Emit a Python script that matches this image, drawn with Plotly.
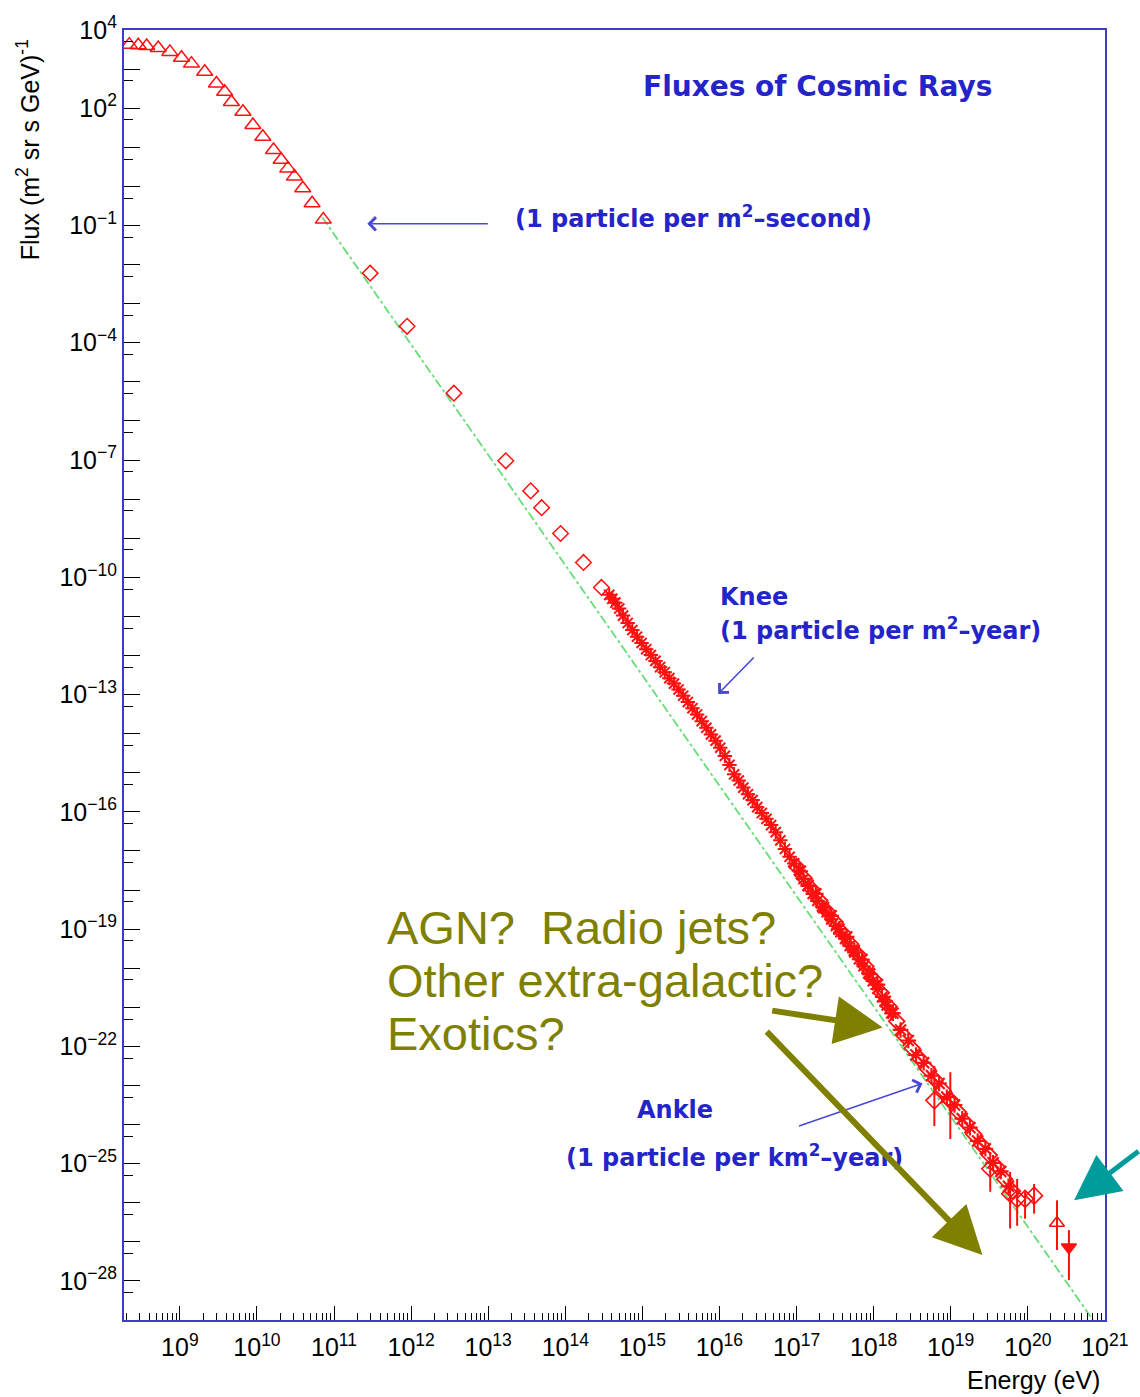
import numpy as np
import plotly.graph_objects as go

# ---- data: log10(E / eV) and log10(flux / (m^2 sr s GeV)^-1) ----
# low-energy direct measurements (open triangles)
tri_log_e = [8.344, 8.46, 8.569, 8.719, 8.87, 9.021, 9.15, 9.322, 9.474, 9.581, 9.668,
             9.818, 9.947, 10.076, 10.215, 10.314, 10.40, 10.486, 10.594, 10.715, 10.861]
tri_log_flux = [3.625, 3.61, 3.59, 3.54, 3.44, 3.29, 3.14, 2.93, 2.63, 2.42, 2.16,
                1.91, 1.57, 1.27, 0.93, 0.68, 0.46, 0.25, -0.05, -0.43, -0.85]

# balloon / satellite data (open diamonds)
dia_log_e = [11.469, 11.948, 12.555, 13.228, 13.551, 13.693, 13.939, 14.236, 14.469]
dia_log_flux = [-2.22, -3.58, -5.29, -7.02, -7.79, -8.22, -8.88, -9.62, -10.26]

# air-shower data around the knee (asterisks)
star_log_e = [14.57, 14.61, 14.65, 14.70, 14.75, 14.81, 14.87, 14.93, 14.99, 15.05,
              15.11, 15.17, 15.23, 15.29, 15.35, 15.41, 15.47, 15.53, 15.59, 15.65,
              15.71, 15.77, 15.83, 15.89, 15.95, 16.01, 16.07, 16.13, 16.19, 16.25,
              16.31, 16.37, 16.43, 16.49, 16.55, 16.61, 16.67, 16.73, 16.79, 16.85,
              16.91, 16.97, 17.03, 17.09, 17.15, 17.21, 17.27, 17.33, 17.39, 17.45,
              17.51, 17.57, 17.63, 17.69, 17.75, 17.81, 17.87, 17.93, 17.99, 18.05,
              18.11, 18.17, 18.23]
star_log_flux = [-10.45, -10.55, -10.65, -10.80, -10.98, -11.17, -11.35, -11.52, -11.68, -11.84,
                 -11.99, -12.14, -12.30, -12.43, -12.58, -12.72, -12.87, -13.03, -13.19, -13.35,
                 -13.51, -13.68, -13.85, -14.02, -14.18, -14.36, -14.57, -14.80, -15.04, -15.20,
                 -15.38, -15.55, -15.70, -15.88, -16.03, -16.18, -16.34, -16.52, -16.73, -16.95,
                 -17.15, -17.32, -17.50, -17.72, -17.90, -18.10, -18.28, -18.42, -18.57, -18.75,
                 -18.92, -19.08, -19.25, -19.43, -19.60, -19.77, -19.95, -20.13, -20.33, -20.53,
                 -20.74, -20.95, -21.15]

# ultra-high-energy air-shower arrays (open diamonds and asterisks)
uhe_log_e = [17.00, 17.10, 17.20, 17.30, 17.40, 17.50, 17.60, 17.70, 17.80, 17.90,
             18.00, 18.10, 18.20, 18.30, 18.40, 18.50, 18.60, 18.70, 18.80, 18.90,
             19.00, 19.10, 19.20, 19.30, 19.40, 19.50, 19.60, 19.70, 19.80]
uhe_log_flux = [-17.40, -17.70, -17.98, -18.27, -18.55, -18.82, -19.10, -19.38, -19.65, -19.96,
                -20.28, -20.63, -20.98, -21.36, -21.74, -22.05, -22.32, -22.58, -22.86, -23.12,
                -23.40, -23.68, -23.96, -24.25, -24.52, -24.78, -25.08, -25.40, -25.70]
uhe2_log_e = [17.05, 17.15, 17.25, 17.35, 17.45, 17.55, 17.65, 17.75, 17.85, 17.95,
              18.05, 18.15, 18.25, 18.35, 18.45, 18.55, 18.65, 18.75, 18.85, 18.95,
              19.05, 19.15, 19.25, 19.35, 19.45, 19.55, 19.65, 19.75]
uhe2_log_flux = [-17.52, -17.88, -18.10, -18.45, -18.66, -19.00, -19.20, -19.55, -19.78, -20.15,
                 -20.42, -20.85, -21.15, -21.58, -21.85, -22.22, -22.42, -22.75, -22.95, -23.30,
                 -23.50, -23.85, -24.08, -24.42, -24.62, -24.98, -25.20, -25.58]

# highest-energy points with error bars
eb_log_e = [18.788, 18.995, 19.513, 19.771, 19.862, 19.965, 20.082]
eb_log_flux = [-23.38, -23.38, -25.13, -25.77, -25.90, -25.90, -25.82]
eb_log_hi = [-22.50, -22.66, -24.70, -25.21, -25.39, -25.72, -25.52]
eb_log_lo = [-24.04, -24.37, -25.72, -26.66, -26.59, -26.41, -26.28]

up_log_e, up_log_flux, up_log_hi, up_log_lo = [20.379], [-26.52], [-25.94], [-27.21]
dn_log_e, dn_log_flux, dn_log_hi, dn_log_lo = [20.534], [-27.14], [-26.70], [-27.98]

# power-law reference line
fit_log_e = [10.848, 20.845]
fit_log_flux = [-0.796, -29.0]

# axis ticks
x_decades = list(range(9, 22))
y_label_exps = [4, 2, -1, -4, -7, -10, -13, -16, -19, -22, -25, -28]


def p10(v):
    return np.power(10.0, np.asarray(v, dtype=float))


RED = "#ff1010"
FRAME = "#3c3cc4"
BLUE_TXT = "#2424c8"
OLIVE = "#808000"

fig = go.Figure()

fig.add_trace(go.Scatter(
    x=p10(fit_log_e), y=p10(fit_log_flux), mode="lines",
    line=dict(color="#66dd77", width=1.8, dash="dashdot"), hoverinfo="skip"))

fig.add_trace(go.Scatter(
    x=p10(tri_log_e), y=p10(tri_log_flux), mode="markers",
    marker=dict(symbol="triangle-up-open", size=14, color=RED, line=dict(width=1.5, color=RED))))

fig.add_trace(go.Scatter(
    x=p10(dia_log_e), y=p10(dia_log_flux), mode="markers",
    marker=dict(symbol="diamond-open", size=12, color=RED, line=dict(width=1.5, color=RED))))

fig.add_trace(go.Scatter(
    x=p10(star_log_e), y=p10(star_log_flux), mode="markers",
    marker=dict(symbol="asterisk-open", size=12, color=RED, line=dict(width=2, color=RED))))

fig.add_trace(go.Scatter(
    x=p10(uhe_log_e), y=p10(uhe_log_flux), mode="markers",
    marker=dict(symbol="diamond-open", size=12, color=RED, line=dict(width=1.8, color=RED))))

fig.add_trace(go.Scatter(
    x=p10(uhe2_log_e), y=p10(uhe2_log_flux), mode="markers",
    marker=dict(symbol="asterisk-open", size=13, color=RED, line=dict(width=2.2, color=RED))))


def err_trace(le, lf, hi, lo, symbol):
    f = p10(lf)
    return go.Scatter(
        x=p10(le), y=f, mode="markers",
        marker=dict(symbol=symbol, size=13, color=RED, line=dict(width=1.6, color=RED)),
        error_y=dict(type="data", symmetric=False,
                     array=p10(hi) - f, arrayminus=f - p10(lo),
                     color=RED, thickness=2, width=0))


fig.add_trace(err_trace(eb_log_e, eb_log_flux, eb_log_hi, eb_log_lo, "diamond-open"))
fig.add_trace(err_trace(up_log_e, up_log_flux, up_log_hi, up_log_lo, "triangle-up-open"))
fig.add_trace(err_trace(dn_log_e, dn_log_flux, dn_log_hi, dn_log_lo, "triangle-down"))

tick_font = dict(family="Liberation Sans, Arial, sans-serif", size=25, color="black")

fig.update_xaxes(
    type="log", range=[8.275, 21.002],
    tickmode="array", tickvals=[10.0 ** k for k in x_decades],
    ticktext=["10<sup>%d</sup>" % k for k in x_decades],
    ticks="inside", ticklen=14, tickwidth=1.2, tickcolor="black",
    ticklabelstandoff=4,
    minor=dict(tickmode="array",
               tickvals=[m * 10.0 ** k for k in range(8, 21) for m in range(2, 10)],
               ticks="inside", ticklen=7, tickwidth=1, tickcolor="black"),
    showgrid=False, zeroline=False,
    showline=True, linecolor=FRAME, linewidth=2.2, mirror=True,
    tickfont=tick_font)

fig.update_yaxes(
    type="log", range=[-29, 4],
    tickmode="array", tickvals=[10.0 ** k for k in range(-29, 5)],
    ticktext=[("10<sup>%s</sup>" % str(k).replace("-", "\u2212")) if k in y_label_exps else ""
              for k in range(-29, 5)],
    ticks="inside", ticklen=16, tickwidth=1.2, tickcolor="black",
    minor=dict(tickmode="array",
               tickvals=[5 * 10.0 ** k for k in range(-30, 4)],
               ticks="inside", ticklen=9, tickwidth=1, tickcolor="black"),
    showgrid=False, zeroline=False,
    showline=True, linecolor=FRAME, linewidth=2.2, mirror=True,
    tickfont=tick_font)

blue_font = dict(family="DejaVu Sans, sans-serif", size=24, color=BLUE_TXT, weight="bold")
olive_font = dict(family="Liberation Sans, Arial, sans-serif", size=47, color=OLIVE)

ann = []


def text(x, y, s, font, xanchor="left"):
    ann.append(dict(xref="paper", yref="paper", x=x, y=y, text=s, showarrow=False,
                    font=font, xanchor=xanchor, yanchor="middle"))


def arrow(x, y, ax, ay, color, width, head, size):
    ann.append(dict(xref="paper", yref="paper", x=x, y=y, ax=ax, ay=ay, text="",
                    showarrow=True, arrowcolor=color, arrowwidth=width,
                    arrowhead=head, arrowsize=size, standoff=0, startstandoff=0))


text(0.7073, 0.9559, "Fluxes of Cosmic Rays", dict(blue_font, size=28), "center")
text(0.5803, 0.8553, "(1 particle per m<sup>2</sup>\u2013second)", blue_font, "center")
text(0.6057, 0.5604, "Knee", blue_font)
text(0.6057, 0.5356, "(1 particle per m<sup>2</sup>\u2013year)", blue_font)
text(0.562, 0.1625, "Ankle", blue_font, "center")
text(0.4482, 0.1269, "(1 particle per km<sup>2</sup>\u2013year)", blue_font)

text(0.2663, 0.3042, "AGN?\u00a0\u00a0Radio jets?", olive_font)
text(0.2663, 0.2632, "Other extra-galactic?", olive_font)
text(0.2663, 0.2221, "Exotics?", olive_font)

# axis titles
ann.append(dict(xref="paper", yref="paper", x=-0.0976, y=0.907, textangle=-90,
                text="Flux (m<sup>2</sup> sr s GeV)<sup>-1</sup>", showarrow=False,
                font=dict(family="Liberation Sans, Arial, sans-serif", size=25, color="black"),
                xanchor="center", yanchor="middle"))
ann.append(dict(xref="paper", yref="paper", x=0.997, y=-0.0464,
                text="Energy (eV)", showarrow=False,
                font=dict(family="Liberation Sans, Arial, sans-serif", size=25, color="black"),
                xanchor="right", yanchor="middle"))

# pointer arrows
arrow(0.248, 0.8498, 122, 0, "#4848d8", 1.6, 4, 1.6)
arrow(0.6057, 0.4853, 37, -38, "#4848d8", 1.6, 4, 1.6)
arrow(0.814, 0.1834, -125, 43, "#4848d8", 1.6, 4, 1.6)
arrow(0.7734, 0.2268, -112, -17, OLIVE, 6, 2, 1.6)
arrow(0.875, 0.0503, -217, -225, OLIVE, 6, 2, 1.6)
arrow(0.9685, 0.0929, 68, -50, "#009b9b", 5, 2, 1.8)

fig.update_layout(
    width=1140, height=1397,
    margin=dict(l=124, r=32, t=28, b=77),
    paper_bgcolor="white", plot_bgcolor="white",
    showlegend=False,
    annotations=ann)

fig.write_html("out.html")
